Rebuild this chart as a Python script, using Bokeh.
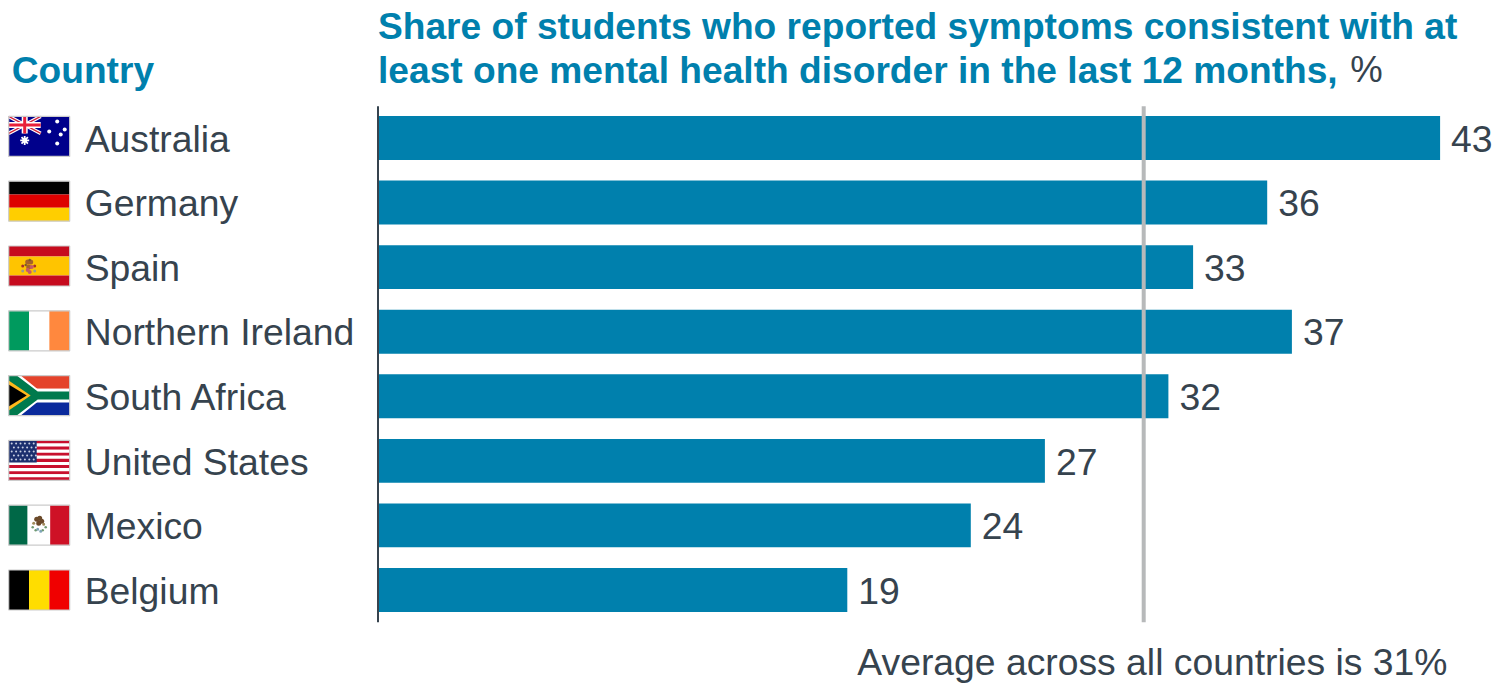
from bokeh.core.properties import value
from bokeh.embed import file_html
from bokeh.models import ColumnDataSource, Range1d
from bokeh.plotting import figure
from bokeh.resources import INLINE

countries = ["Australia", "Germany", "Spain", "Northern Ireland",
             "South Africa", "United States", "Mexico", "Belgium"]
shares = [43, 36, 33, 37, 32, 27, 24, 19]
average_share = 31
title_lines = ["Share of students who reported symptoms consistent with at",
               "least one mental health disorder in the last 12 months,"]
column_title = "Country"
average_note = "Average across all countries is 31%"

W, H = 1493, 684
SHIFT_X, SHIFT_Y = 0.8, 0.6     # nudge onto the pixel grid
ZERO_PX, UNIT = 377.5, 24.7     # zero line, pixels per percentage point
ROW0, ROW_STEP = 137.5, 64.57   # pixel centre of the first row, spacing of rows
TEAL = "#0080ad"
INK = "#36434e"
FONT = value("Liberation Sans")
TEXT_SIZE = "37.3px"

p = figure(width=W, height=H, output_backend="svg", toolbar_location=None,
           x_range=Range1d(-ZERO_PX / UNIT, (W - ZERO_PX) / UNIT),
           y_range=Range1d((H - ROW0) / ROW_STEP, -ROW0 / ROW_STEP),
           min_border=0, outline_line_color=None, background_fill_color="white",
           border_fill_color="white")
p.axis.visible = False
p.grid.visible = False
p.extra_x_ranges["px"] = Range1d(SHIFT_X, W + SHIFT_X)
p.extra_y_ranges["px"] = Range1d(H + SHIFT_Y, SHIFT_Y)

rows = list(range(len(countries)))
src = ColumnDataSource(dict(row=rows, share=shares, country=countries,
                            label=[str(s) for s in shares],
                            name_x=[85] * len(rows),
                            text_y=[r + 0.012 for r in rows]))

p.hbar(y="row", right="share", left=0, height=0.68, source=src,
       fill_color=TEAL, line_color=None)
# average marker runs over the bars
p.segment(x0=[average_share], x1=[average_share], y0=[-0.49], y1=[7.5],
          line_color="#b7b9ba", line_width=4)
p.segment(x0=[0], x1=[0], y0=[-0.49], y1=[7.5], line_color=INK, line_width=2)

p.text(x="share", y="text_y", text="label", source=src, x_offset=11, text_baseline="middle",
       text_font=FONT, text_font_size=TEXT_SIZE, text_color=INK)
p.text(x="name_x", y="text_y", text="country", source=src, x_range_name="px",
       text_baseline="middle", text_font=FONT, text_font_size=TEXT_SIZE, text_color=INK)

# headings
p.text(x=[378.3, 378.3], y=[26, 70], text=title_lines, x_range_name="px", y_range_name="px",
       text_baseline="middle", text_font=FONT, text_font_style="bold",
       text_font_size="37.15px", text_color=TEAL)
p.text(x=[1350.5], y=[70], text=["%"], x_range_name="px", y_range_name="px",
       text_baseline="middle", text_font=FONT, text_font_size="36.5px", text_color=INK)
p.text(x=[12], y=[70], text=[column_title], x_range_name="px", y_range_name="px",
       text_baseline="middle", text_font=FONT, text_font_style="bold",
       text_font_size="37.15px", text_color=TEAL)
p.text(x=[857.6], y=[662], text=[average_note], x_range_name="px", y_range_name="px",
       text_baseline="middle", text_font=FONT, text_font_size=TEXT_SIZE, text_color=INK)

# --- flags, drawn in page pixels from their own box ---
FX0, FX1, FH = 9.0, 70.0, 40.0
flag_tops = [116.5 + 64.8 * i for i in rows]


def box(x0, x1, y0, y1, color):
    p.quad(left=[x0], right=[x1], top=[y0], bottom=[y1], fill_color=color, line_color=None,
           x_range_name="px", y_range_name="px")


def poly(xs, ys, color):
    p.patch(xs, ys, fill_color=color, line_color=None, x_range_name="px", y_range_name="px")


def lines(xs, ys, color, width):
    p.line(xs, ys, line_color=color, line_width=width, x_range_name="px", y_range_name="px")


def dots(xs, ys, size, color):
    p.scatter(xs, ys, marker="circle", size=size, fill_color=color, line_color=None,
              x_range_name="px", y_range_name="px")


def stripes_v(top, colors, stops):
    for c, a, b in zip(colors, stops[:-1], stops[1:]):
        box(FX0 + (FX1 - FX0) * a, FX0 + (FX1 - FX0) * b, top, top + FH, c)


def stripes_h(top, colors, stops):
    for c, a, b in zip(colors, stops[:-1], stops[1:]):
        box(FX0, FX1, top + FH * a, top + FH * b, c)


def australia(t):
    box(FX0, FX1, t, t + FH, "#00008b")
    ux, uy = FX0 + 32, t + 17
    lines([FX0, ux], [t, uy], "white", 3.5)
    lines([FX0, ux], [uy, t], "white", 3.5)
    lines([FX0, ux], [t, uy], "#d0213a", 1.2)
    lines([FX0, ux], [uy, t], "#d0213a", 1.2)
    box(FX0 + 13, FX0 + 19, t, uy, "white")
    box(FX0, ux, t + 5.5, t + 11.5, "white")
    box(FX0 + 14.5, FX0 + 17.5, t, uy, "#e8203a")
    box(FX0, ux, t + 7, t + 10, "#e8203a")
    p.scatter([25], [t + 24], marker="asterisk", size=9, line_color="white", line_width=1.8,
              x_range_name="px", y_range_name="px")
    dots([57.5, 49.5, 65, 61, 57.5], [t + 5, t + 15, t + 13, t + 18, t + 27], 4, "white")


def germany(t):
    stripes_h(t, ["#000000", "#dd0000", "#ffce00"], [0, 1 / 3, 2 / 3, 1])


def spain(t):
    stripes_h(t, ["#c60b1e", "#ffc400", "#c60b1e"], [0, 0.26, 0.74, 1])
    dots([23, 35], [t + 20, t + 20], 3, "#a9302a")
    dots([23, 35], [t + 25, t + 25], 3, "#9a9a90")
    dots([28, 29, 31], [t + 16, t + 21, t + 16], 5, "#a6622a")
    dots([28, 32, 30], [t + 24, t + 21, t + 26], 4, "#c65a6a")
    dots([26, 30], [t + 19, t + 14], 2.5, "#7a5a2a")


def ireland(t):
    stripes_v(t, ["#009a5e", "#ffffff", "#ff883e"], [0, 1 / 3, 2 / 3, 1])


def south_africa(t):
    stripes_h(t, ["#e4432b", "#ffffff", "#007a4d", "#ffffff", "#0a2a9c"],
              [0, 0.33, 0.37, 0.63, 0.67, 1])
    poly([FX0, FX0 + 12, FX0 + 30, FX1, FX1, FX0 + 30, FX0 + 12, FX0],
         [t, t, t + 14.5, t + 14.5, t + 25.5, t + 25.5, t + FH, t + FH], "white")
    poly([FX0, FX0 + 8, FX0 + 29, FX1, FX1, FX0 + 29, FX0 + 8, FX0],
         [t, t, t + 16, t + 16, t + 24, t + 24, t + FH, t + FH], "#007a4d")
    poly([FX0, FX0 + 22, FX0], [t + 5, t + 20, t + 35], "#ffb81c")
    poly([FX0, FX0 + 18, FX0], [t + 9, t + 20, t + 31], "#000000")


def united_states(t):
    for k in range(13):
        box(FX0, FX1, t + FH * k / 13, t + FH * (k + 1) / 13,
            "#c8102e" if k % 2 == 0 else "white")
    box(FX0, FX0 + 28, t, t + 22, "#1c2f6e")
    xs, ys = [], []
    for r in range(5):
        for c in range(6):
            xs.append(FX0 + 3 + c * 4.4 + (r % 2) * 2.2)
            ys.append(t + 3 + r * 4)
    dots(xs, ys, 2, "#c9d0e4")


def mexico(t):
    stripes_v(t, ["#006847", "#ffffff", "#ce1126"], [0, 0.31, 0.68, 1])
    dots([37, 40, 42, 39], [t + 14, t + 13, t + 16, t + 18], 5, "#6b4a2a")
    dots([34, 44], [t + 18, t + 19], 3, "#a08a5a")
    dots([33, 46, 36, 43], [t + 22, t + 22, t + 25, t + 25], 2.5, "#6f9a70")
    dots([38, 41], [t + 24, t + 26], 3, "#7fa6b8")


def belgium(t):
    stripes_v(t, ["#000000", "#ffdd00", "#f00000"], [0, 1 / 3, 2 / 3, 1])


painters = [australia, germany, spain, ireland, south_africa, united_states, mexico, belgium]
for top, paint in zip(flag_tops, painters):
    paint(top)
    p.quad(left=[FX0], right=[FX1], top=[top], bottom=[top + FH], fill_color=None,
           line_color="#cccccc", line_width=1.2, x_range_name="px", y_range_name="px")

open("out.html", "w").write(file_html(p, INLINE))
